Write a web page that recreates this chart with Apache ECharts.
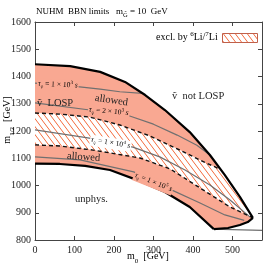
<!DOCTYPE html>
<html><head><meta charset="utf-8">
<script src="https://cdn.jsdelivr.net/npm/echarts@6/dist/echarts.min.js"></script>
<style>html,body{margin:0;padding:0;background:#fff}#c{width:275px;height:267px}</style>
</head><body><div id="c"></div>
<script>
const xTicks = [0, 100, 200, 300, 400, 500];
const yTicks = [800, 900, 1000, 1100, 1200, 1300, 1400, 1500, 1600];
// boundary of "sneutrino not LOSP" (upper thick black)
const notLospBoundary = [[0,1445],[89,1438],[165,1417],[228,1380],[279,1332],[329,1277],[392,1196],[443,1112],[481,1038],[519,958],[552,881]];
// boundary of unphysical region (lower thick black)
const unphysBoundary = [[0,1080],[63,1079],[127,1072],[190,1057],[266,1016],[329,976],[392,921],[453,840]];
const unphysTail = [[453,840],[489,844],[519,855],[539,866],[552,881]];
const unphysGray = [[453,840],[500,838],[575,835]];
// 6Li/7Li excluded band (dashed edges)
const liUpper = [[0,1266],[63,1262],[139,1251],[215,1222],[291,1182],[367,1130],[430,1085],[470,1059]];
const liLower = [[0,1149],[63,1145],[147,1130],[266,1101],[342,1061],[418,991],[494,921],[532,895],[552,881]];
// lifetime contours
const tau1e3 = [[0,1376],[96,1365],[165,1354],[215,1344],[272,1338]];
const tau2e3 = [[0,1303],[134,1278],[240,1255],[300,1225],[360,1185],[410,1148],[443,1112]];
const tau1e4 = [[0,1204],[134,1175],[248,1141],[316,1105],[380,1057],[443,1002],[494,947],[545,884]];
const tau1e5 = [[0,1105],[114,1094],[250,1050],[347,983],[418,936],[481,892],[530,872]];

const FONT = "'Liberation Serif','Times New Roman',serif";
const PINK = '#f9a892';
const HATCH = '#f36a3c';
const SNU = 'ṽ';

function hatchCanvas() {
  const w = 6, h = 8;
  const c = document.createElement('canvas'); c.width = w; c.height = h;
  const g = c.getContext('2d');
  g.fillStyle = '#fff'; g.fillRect(0, 0, w, h);
  g.strokeStyle = HATCH; g.lineWidth = 1;
  g.beginPath();
  g.moveTo(-w, -h); g.lineTo(2 * w, 2 * h);
  g.moveTo(-2 * w, -h); g.lineTo(w, 2 * h);
  g.moveTo(0, -h); g.lineTo(3 * w, 2 * h);
  g.stroke();
  return c;
}
const hatchPattern = { image: hatchCanvas(), repeat: 'repeat' };

const pinkRegion = notLospBoundary.concat(unphysTail.slice().reverse().slice(1), unphysBoundary.slice().reverse());
const mergeX = liUpper[liUpper.length - 1][0];
const hatchRegion = liUpper.concat(notLospBoundary.filter(p => p[0] > mergeX), liLower.slice().reverse());

function poly(points, fill, z) {
  return { type: 'custom', coordinateSystem: 'cartesian2d', z, silent: true, animation: false,
    data: [[100, 1000]],
    renderItem: (p, api) => ({ type: 'polygon', shape: { points: points.map(q => api.coord(q)) }, style: { fill: fill, stroke: null } }) };
}
function curve(data, color, width, type, z) {
  return { type: 'line', data, symbol: 'none', showSymbol: false, silent: true, z, animation: false,
    lineStyle: { color, width, type, cap: 'butt', join: 'round' } };
}

const base = { fontFamily: FONT, fontSize: 10, color: '#222', padding: [0,0,3,0], verticalAlign: 'bottom' };
function rich(extra) {
  return Object.assign({
    n: base,
    i: Object.assign({}, base, { fontStyle: 'italic' }),
    sub: { fontFamily: FONT, fontSize: 7, color: '#222', padding: [0,0,0,0], verticalAlign: 'bottom' },
    sup: { fontFamily: FONT, fontSize: 7, color: '#222', padding: [0,0,8,0], verticalAlign: 'bottom' }
  }, extra || {});
}
function tauRich(fs) {
  return {
    n: { fontFamily: FONT, fontSize: fs, color: '#222', padding: [0,0,2,0], verticalAlign: 'bottom' },
    i: { fontFamily: FONT, fontSize: fs, fontStyle: 'italic', color: '#222', padding: [0,0,2,0], verticalAlign: 'bottom' },
    sub: { fontFamily: FONT, fontSize: fs - 2.5, color: '#222', padding: [0,0,0,0], verticalAlign: 'bottom' },
    sup: { fontFamily: FONT, fontSize: fs - 2.5, color: '#222', padding: [0,0,6,0], verticalAlign: 'bottom' }
  };
}
function tauLabel(mant, exp, x, y, rot, bg) {
  return { type: 'text', x, y, rotation: rot, z: 50,
    style: { text: `{i|τ}{sub|${SNU}}{n| = ${mant} × 10}{sup|${exp}}{i| s}`, rich: tauRich(7.5),
      align: 'left', verticalAlign: 'middle', backgroundColor: bg, padding: [0, 1, 0, 1] } };
}
function plain(text, x, y, fs, rot, align) {
  return { type: 'text', x, y, rotation: rot || 0, z: 50,
    style: { text, fontFamily: FONT, fontSize: fs, fill: '#222', align: align || 'left', verticalAlign: 'middle' } };
}

const axisCommon = {
  type: 'value',
  axisLine: { show: true, onZero: false, lineStyle: { color: '#444', width: 1 } },
  axisTick: { show: true, inside: true, length: 4, lineStyle: { color: '#444' } },
  splitLine: { show: false }
};

const option = {
  animation: false,
  backgroundColor: '#fff',
  grid: { left: 35, right: 13, top: 22, bottom: 27, containLabel: false },
  xAxis: [
    Object.assign({}, axisCommon, { position: 'bottom', min: 0, max: 575, interval: 100,
      axisLabel: { show: true, margin: 5, fontFamily: FONT, fontSize: 10, color: '#222',
        formatter: v => xTicks.includes(v) ? String(v) : '' } }),
    Object.assign({}, axisCommon, { position: 'top', min: 0, max: 575, interval: 100, axisLabel: { show: false } })
  ],
  yAxis: [
    Object.assign({}, axisCommon, { position: 'left', min: 800, max: 1600, interval: 100,
      axisLabel: { show: true, margin: 4, fontFamily: FONT, fontSize: 10, color: '#222',
        formatter: v => yTicks.includes(v) ? String(v) : '' } }),
    Object.assign({}, axisCommon, { position: 'right', min: 800, max: 1600, interval: 100, axisLabel: { show: false } })
  ],
  series: [
    poly(pinkRegion, PINK, 1),
    poly(hatchRegion, hatchPattern, 2),
    curve(tau1e3, '#707070', 1.2, 'solid', 3),
    curve(tau2e3, '#707070', 1.2, 'solid', 3),
    curve(tau1e4, '#707070', 1.2, 'solid', 3),
    curve(tau1e5, '#707070', 1.2, 'solid', 3),
    curve(unphysGray, '#707070', 1.2, 'solid', 3),
    curve(liUpper, '#111', 1.4, [4, 3], 4),
    curve(liLower, '#111', 1.4, [4, 3], 4),
    curve(notLospBoundary, '#000', 2.2, 'solid', 5),
    curve(unphysBoundary, '#000', 2.2, 'solid', 5),
    curve(unphysTail, '#000', 2.2, 'solid', 5)
  ],
  graphic: [
    { type: 'text', x: 36, y: 13, z: 50, style: { text: '{n|NUHM  BBN limits   m}{sub|G̃}{n| = 10  GeV}', rich: rich({
        n: { fontFamily: FONT, fontSize: 9, color: '#222', padding: [0,0,2,0], verticalAlign: 'bottom' },
        sub: { fontFamily: FONT, fontSize: 6.5, color: '#222', verticalAlign: 'bottom' } }), verticalAlign: 'middle' } },
    { type: 'text', x: 156, y: 38, z: 50, style: { text: '{n|excl. by }{sup|6}{n|Li/}{sup|7}{n|Li}', rich: rich(), verticalAlign: 'middle' } },
    { type: 'rect', z: 50, shape: { x: 222.5, y: 33.5, width: 35, height: 9 }, style: { fill: hatchPattern, stroke: '#c0604a', lineWidth: 1 } },
    plain(SNU + '  LOSP', 37, 103, 10.5),
    plain(SNU + '  not LOSP', 172, 96, 10.5),
    plain('allowed', 95, 98, 10.5, -0.14),
    plain('allowed', 67, 156, 10.5, -0.07),
    plain('unphys.', 75, 199, 10.5),
    tauLabel(1, 3, 37, 84, -0.05, PINK),
    tauLabel(2, 3, 88, 110, -0.09, PINK),
    tauLabel(1, 4, 90, 140, -0.16, '#fff'),
    tauLabel(1, 5, 134, 175, -0.38, PINK),
    { type: 'text', x: 9, y: 120, rotation: Math.PI / 2, z: 50, style: { text: '{n|m}{sub|1/2}{n|  [GeV]}', rich: rich(), align: 'center', verticalAlign: 'middle' } },
    { type: 'text', x: 148, y: 258, z: 50, style: { text: '{n|m}{sub|0}{n|  [GeV]}', rich: rich(), align: 'center', verticalAlign: 'middle' } }
  ]
};
const chart = echarts.init(document.getElementById('c'), null, { renderer: 'canvas' });
chart.setOption(option);
</script>
</body></html>
